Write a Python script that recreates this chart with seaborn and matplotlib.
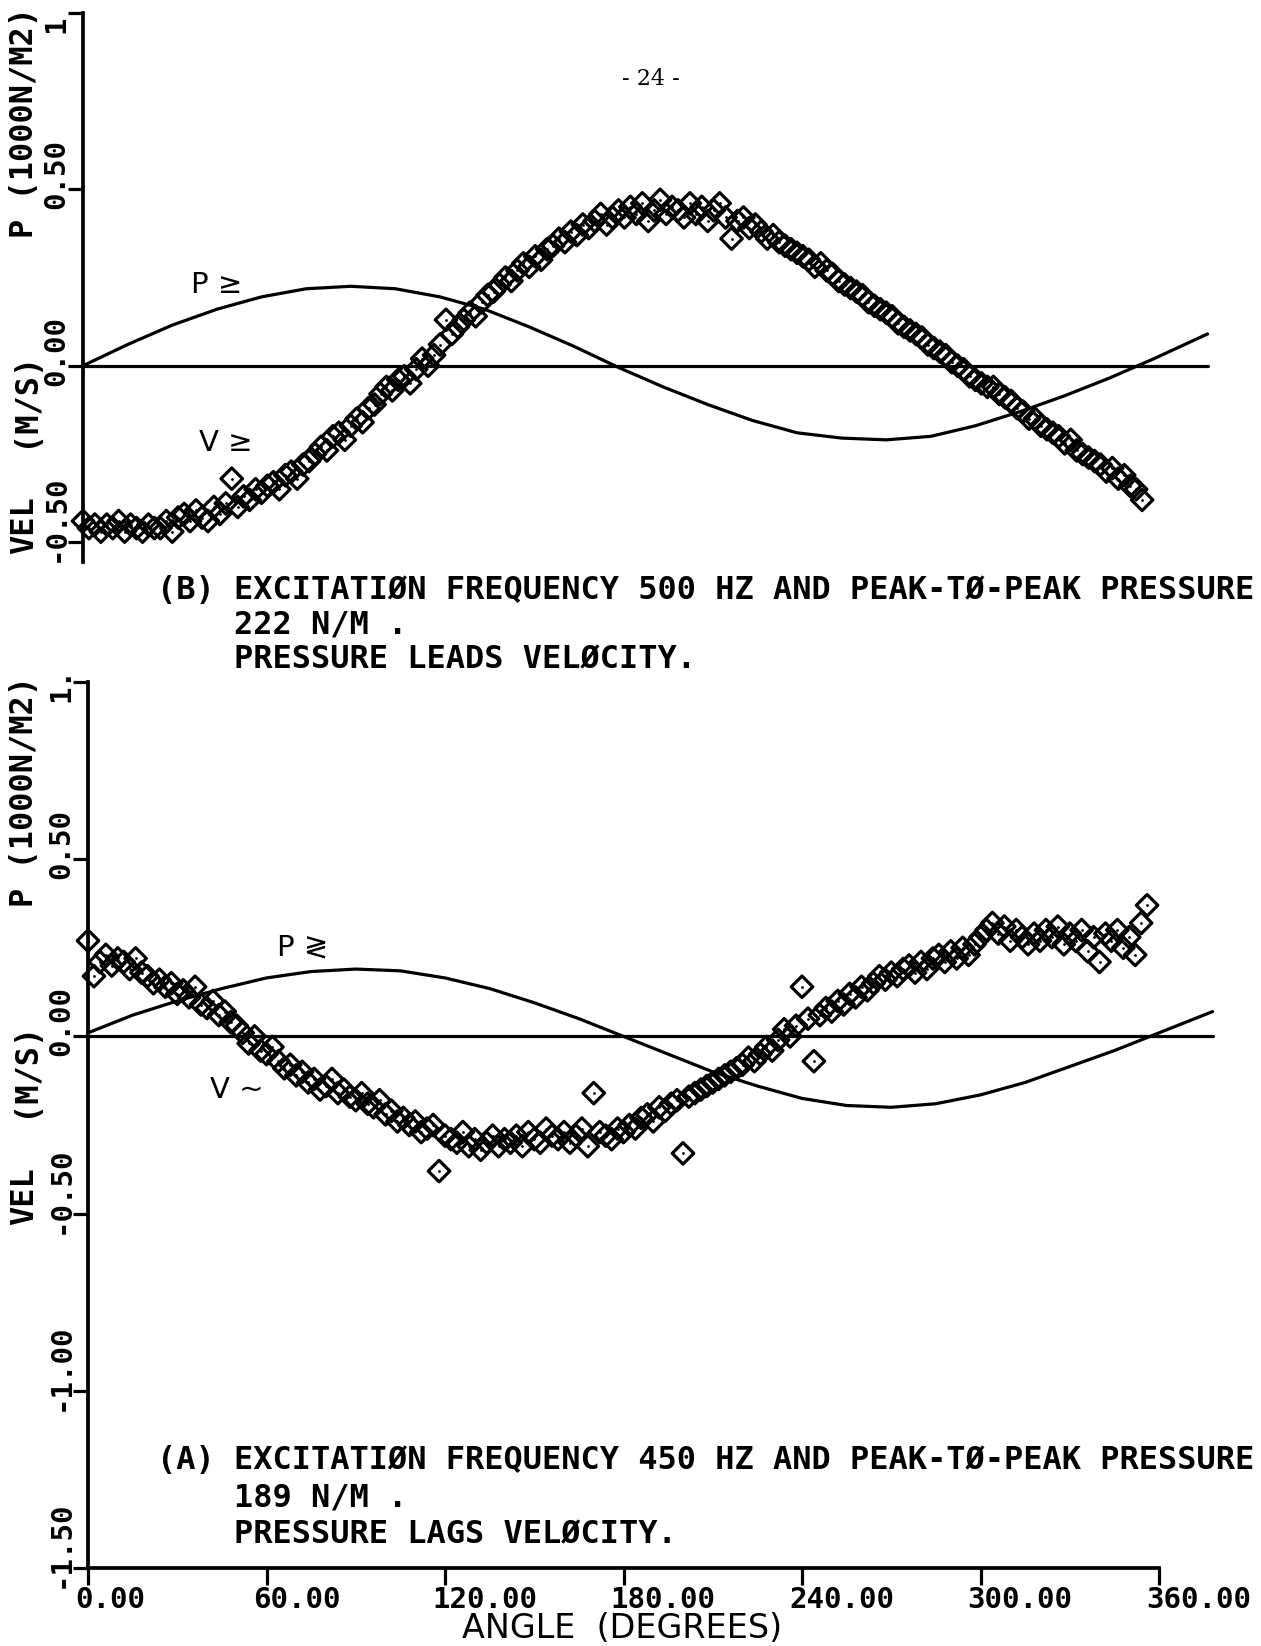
import numpy as np
import pandas as pd
import matplotlib
matplotlib.use("Agg")
import matplotlib.pyplot as plt
import matplotlib.transforms as mtransforms
import seaborn as sns

sns.set_style("white")
plt.rcParams["font.family"] = ["DejaVu Sans Mono", "DejaVu Sans"]

# ---------------------------------------------------------------- data
# measured velocity samples, every 2 degrees from 0 to 356
vel_angle = np.arange(0, 358, 2)

vel_b = [
    -0.44, -0.46, -0.45, -0.47, -0.45, -0.46, -0.44, -0.47, -0.45, -0.46,
    -0.47, -0.45, -0.46, -0.46, -0.44, -0.47, -0.43, -0.42, -0.44, -0.41,
    -0.43, -0.44, -0.40, -0.42, -0.39, -0.32, -0.40, -0.37, -0.38, -0.35,
    -0.36, -0.34, -0.33, -0.35, -0.31, -0.30, -0.32, -0.28, -0.27, -0.25,
    -0.23, -0.24, -0.20, -0.19, -0.21, -0.17, -0.15, -0.16, -0.12, -0.11,
    -0.08, -0.06, -0.07, -0.04, -0.03, -0.05, -0.01, 0.02, 0.00, 0.03,
    0.06, 0.13, 0.09, 0.11, 0.13, 0.15, 0.14, 0.18, 0.20, 0.21,
    0.23, 0.25, 0.24, 0.27, 0.29, 0.28, 0.31, 0.30, 0.33, 0.34,
    0.36, 0.35, 0.38, 0.37, 0.40, 0.39, 0.41, 0.43, 0.40, 0.42,
    0.44, 0.42, 0.45, 0.43, 0.46, 0.41, 0.44, 0.47, 0.43, 0.45,
    0.44, 0.42, 0.46, 0.43, 0.45, 0.41, 0.44, 0.46, 0.42, 0.36,
    0.41, 0.42, 0.39, 0.40, 0.38, 0.36, 0.37, 0.35, 0.34, 0.33,
    0.32, 0.31, 0.30, 0.28, 0.29, 0.27, 0.26, 0.24, 0.23, 0.22,
    0.21, 0.20, 0.18, 0.17, 0.16, 0.15, 0.14, 0.12, 0.11, 0.10,
    0.09, 0.08, 0.06, 0.05, 0.04, 0.03, 0.01, 0.00, -0.01, -0.03,
    -0.04, -0.05, -0.06, -0.06, -0.08, -0.09, -0.10, -0.12, -0.13, -0.15,
    -0.15, -0.17, -0.18, -0.19, -0.20, -0.22, -0.21, -0.24, -0.25, -0.26,
    -0.27, -0.28, -0.30, -0.29, -0.32, -0.31, -0.34, -0.35, -0.38,
]

vel_a = [
    0.27, 0.17, 0.21, 0.23, 0.20, 0.22, 0.21, 0.19, 0.22, 0.18,
    0.17, 0.15, 0.16, 0.14, 0.15, 0.12, 0.13, 0.11, 0.14, 0.09,
    0.08, 0.10, 0.06, 0.07, 0.04, 0.03, 0.01, -0.02, 0.00, -0.04,
    -0.05, -0.03, -0.07, -0.09, -0.08, -0.11, -0.10, -0.13, -0.12, -0.15,
    -0.14, -0.12, -0.16, -0.15, -0.17, -0.18, -0.16, -0.19, -0.20, -0.18,
    -0.22, -0.21, -0.24, -0.23, -0.25, -0.24, -0.27, -0.26, -0.25, -0.38,
    -0.28, -0.29, -0.30, -0.27, -0.31, -0.29, -0.32, -0.30, -0.28, -0.31,
    -0.29, -0.30, -0.28, -0.31, -0.27, -0.29, -0.30, -0.26, -0.28, -0.29,
    -0.27, -0.30, -0.28, -0.26, -0.31, -0.16, -0.27, -0.28, -0.29, -0.26,
    -0.27, -0.25, -0.26, -0.23, -0.22, -0.24, -0.20, -0.21, -0.19, -0.18,
    -0.33, -0.17, -0.16, -0.15, -0.14, -0.13, -0.12, -0.11, -0.10, -0.09,
    -0.08, -0.06, -0.07, -0.05, -0.03, -0.04, -0.01, 0.02, 0.00, 0.03,
    0.14, 0.05, -0.07, 0.06, 0.08, 0.07, 0.10, 0.09, 0.12, 0.11,
    0.14, 0.13, 0.15, 0.17, 0.16, 0.18, 0.17, 0.19, 0.20, 0.18,
    0.21, 0.19, 0.22, 0.23, 0.21, 0.24, 0.22, 0.25, 0.23, 0.26,
    0.28, 0.30, 0.32, 0.29, 0.31, 0.27, 0.30, 0.28, 0.26, 0.29,
    0.27, 0.30, 0.28, 0.31, 0.26, 0.29, 0.27, 0.30, 0.24, 0.28,
    0.21, 0.29, 0.27, 0.30, 0.25, 0.28, 0.23, 0.32, 0.37,
]

# pressure traces (drawn line), sampled every 15 degrees plus the pen end point
p_angle = [0, 15, 30, 45, 60, 75, 90, 105, 120, 135, 150, 165, 180,
           195, 210, 225, 240, 255, 270, 285, 300, 315, 330, 345, 360, 378]
p_b = [0.00, 0.06, 0.115, 0.16, 0.195, 0.218, 0.225, 0.218, 0.195, 0.16,
       0.11, 0.055, -0.005, -0.06, -0.11, -0.155, -0.19, -0.205, -0.21,
       -0.20, -0.17, -0.13, -0.085, -0.035, 0.02, 0.09]
p_a = [0.01, 0.06, 0.10, 0.135, 0.165, 0.183, 0.19, 0.185, 0.165, 0.135,
       0.095, 0.05, 0.00, -0.05, -0.10, -0.14, -0.175, -0.195, -0.20,
       -0.19, -0.165, -0.13, -0.085, -0.04, 0.01, 0.07]

zero_x = [0, 378]
zero_y = [0, 0]

x_ticks = [0, 60, 120, 180, 240, 300, 360]
x_ticklabels = ["0.00", "60.00", "120.00", "180.00", "240.00", "300.00", "360.00"]
yticks_b = [1.0, 0.5, 0.0, -0.5]
yticklabels_b = ["1", "0.50", "0.00", "-0.50"]
yticks_a = [1.0, 0.5, 0.0, -0.5, -1.0, -1.5]
yticklabels_a = ["1.", "0.50", "0.00", "-0.50", "-1.00", "-1.50"]

caption_b = ["(B) EXCITATIØN FREQUENCY 500 HZ AND PEAK-TØ-PEAK PRESSURE",
             "    222 N/M .",
             "    PRESSURE LEADS VELØCITY."]
caption_a = ["(A) EXCITATIØN FREQUENCY 450 HZ AND PEAK-TØ-PEAK PRESSURE",
             "    189 N/M .",
             "    PRESSURE LAGS VELØCITY."]

# ---------------------------------------------------------------- figure
W, H = 1261, 1646
fig = plt.figure(figsize=(W / 100, H / 100), dpi=100)
fig.patch.set_facecolor("white")


def px(dx, dy):
    return mtransforms.ScaledTranslation(dx / 100, dy / 100, fig.dpi_scale_trans)


def add_axes_px(left, top, right, bottom):
    return fig.add_axes([left / W, 1 - bottom / H, (right - left) / W, (bottom - top) / H])


INK = "black"
LW = 2.3
tick_font = dict(fontsize=21, color=INK, fontweight="bold")


def draw_panel(ax, vel, pres, ylim, yticks, yticklabels, with_xaxis):
    ax.set_facecolor("white")
    ax.set_xlim(0, 360)
    ax.set_ylim(*ylim)

    frame = pd.DataFrame({"angle": vel_angle, "vel": vel})
    sns.scatterplot(data=frame, x="angle", y="vel", marker="D", s=120,
                    facecolor="none", edgecolor=INK, linewidth=2.3,
                    ax=ax, zorder=3, clip_on=False)
    sns.scatterplot(data=frame, x="angle", y="vel", marker="o", s=4,
                    color=INK, linewidth=0, ax=ax, zorder=3, clip_on=False)

    sns.lineplot(x=p_angle, y=pres, ax=ax, color=INK, lw=LW,
                 clip_on=False, zorder=2)
    sns.lineplot(x=zero_x, y=zero_y, ax=ax, color=INK, lw=LW,
                 clip_on=False, zorder=2)

    for side in ["top", "right", "bottom", "left"]:
        ax.spines[side].set_visible(False)
    ax.spines["left"].set_visible(True)
    ax.spines["left"].set_linewidth(LW + 0.4)
    ax.spines["left"].set_color(INK)
    ax.set_yticks(yticks)
    ax.set_yticklabels([])
    ax.tick_params(axis="y", direction="out", length=11, width=LW, color=INK,
                   left=True, labelleft=False)

    ytrans = ax.get_yaxis_transform() + px(-27, -20)
    for v, s in zip(yticks, yticklabels):
        ax.text(0, v, s, transform=ytrans, rotation=90, rotation_mode="anchor",
                ha="left", va="center", **tick_font)

    if with_xaxis:
        ax.spines["bottom"].set_visible(True)
        ax.spines["bottom"].set_linewidth(LW + 0.4)
        ax.spines["bottom"].set_color(INK)
        ax.set_xticks(x_ticks)
        ax.set_xticklabels([])
        ax.tick_params(axis="x", direction="out", length=12, width=LW,
                       color=INK, bottom=True, labelbottom=False)
        xtrans = ax.get_xaxis_transform() + px(-13, -18)
        for v, s in zip(x_ticks, x_ticklabels):
            ax.text(v, 0, s, transform=xtrans, ha="left", va="top", **tick_font)
    else:
        ax.set_xticks([])

    ax.set_xlabel("")
    ax.set_ylabel("")

    # stacked vertical axis title, placed beside the tick labels
    ltrans = mtransforms.blended_transform_factory(fig.transFigure, ax.transData)
    for txt, yv in [("VEL", -0.452), ("(M/S)", -0.093), ("P (1000N/M2)", 0.69)]:
        ax.text(25 / W, yv, txt, transform=ltrans, rotation=90,
                ha="center", va="center", fontsize=23, fontweight="bold",
                color=INK)


ax_b = add_axes_px(83, 12.7, 83 + 1071, 562)
draw_panel(ax_b, vel_b, p_b, (-0.556, 1.0), yticks_b, yticklabels_b, False)

ax_a = add_axes_px(88, 682, 88 + 1071, 1568)
draw_panel(ax_a, vel_a, p_a, (-1.5, 1.0), yticks_a, yticklabels_a, True)

# hand-written curve tags
hand = dict(family=["DejaVu Sans", "DejaVu Sans Mono"], fontsize=21, color=INK)
ax_b.text(45, 0.23, "P ≥", ha="center", va="center", **hand)
ax_b.text(48, -0.22, "V ≥", ha="center", va="center", **hand)
ax_a.text(72, 0.25, "P ≷", ha="center", va="center", **hand)
ax_a.text(50, -0.15, "V ~", ha="center", va="center", **hand)

# captions
cap_font = dict(fontsize=23, color=INK, ha="left", va="center", fontweight="bold")
for i, line in enumerate(caption_b):
    fig.text(157 / W, 1 - (590 + 35 * i) / H, line, **cap_font)
for i, line in enumerate(caption_a):
    fig.text(157 / W, 1 - (1461 + 37 * i) / H, line, **cap_font)

fig.text(622 / W, 1 - 1628 / H, "ANGLE  (DEGREES)", family="DejaVu Sans",
         fontsize=24, color=INK, ha="center", va="center")
fig.text(651 / W, 1 - 79 / H, "- 24 -", family="DejaVu Serif", fontsize=16,
         color=INK, ha="center", va="center")

fig.savefig("out.png", dpi=100, facecolor="white")
